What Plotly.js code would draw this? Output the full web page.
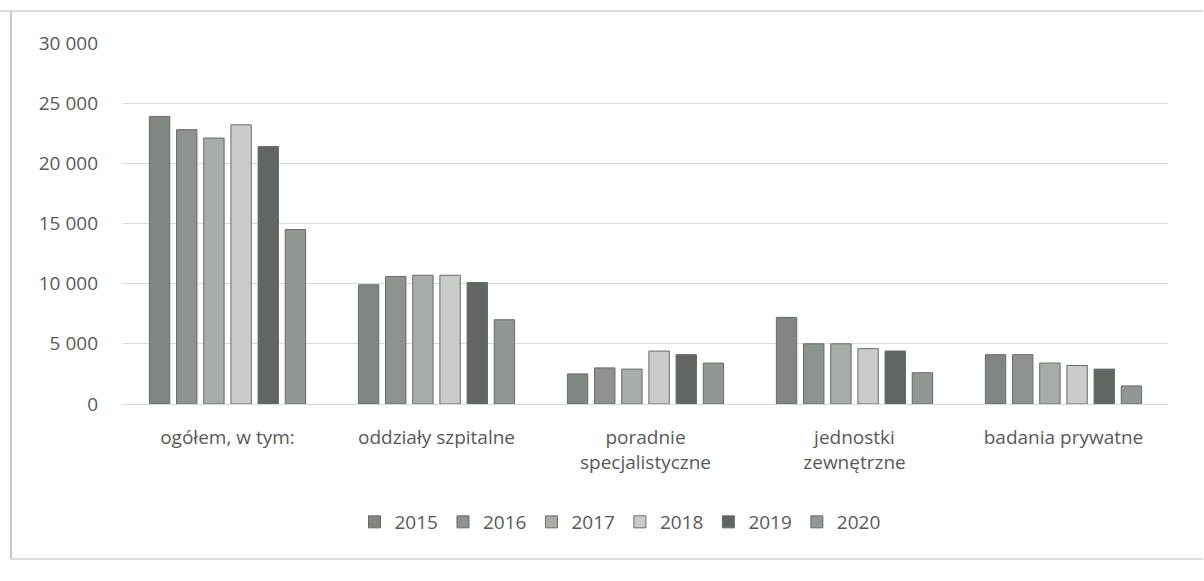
<!DOCTYPE html>
<html>
<head>
<meta charset="utf-8">
<script src="https://cdn.plot.ly/plotly-3.0.1.min.js"></script>
<style>
html,body{margin:0;padding:0;background:#fff;overflow:hidden;}
#chart{width:1204px;height:581px;}
</style>
</head>
<body>
<div id="chart"></div>
<script>
const categories = ["ogółem, w tym:", "oddziały szpitalne", "poradnie<br>specjalistyczne", "jednostki<br>zewnętrzne", "badania prywatne"];
const years = ["2015", "2016", "2017", "2018", "2019", "2020"];
const v2015 = [23900, 9900, 2500, 7200, 4100];
const v2016 = [22800, 10600, 3000, 5000, 4100];
const v2017 = [22100, 10700, 2900, 5000, 3400];
const v2018 = [23200, 10700, 4400, 4600, 3200];
const v2019 = [21400, 10100, 4100, 4400, 2900];
const v2020 = [14500, 7000, 3400, 2600, 1500];
const series = [v2015, v2016, v2017, v2018, v2019, v2020];
const colors = ["#818683", "#8e9390", "#a8aca9", "#caccca", "#616663", "#939794"];
const yTicks = [0, 5000, 10000, 15000, 20000, 25000, 30000];

const traces = series.map((vals, i) => ({
  type: "bar",
  name: years[i],
  x: categories,
  y: vals,
  marker: {color: colors[i], line: {color: "#676b68", width: 1}},
  hoverinfo: "skip"
}));

const L = 123, R = 1168, T = 43, B = 404;
const W = R - L, H = B - T;
const px = x => (x - L) / W;
const py = y => (B - y) / H;

const layout = {
  width: 1204, height: 581,
  margin: {l: L, r: 1204 - R, t: T, b: 581 - B, pad: 0},
  paper_bgcolor: "#ffffff",
  plot_bgcolor: "#ffffff",
  separators: ", ",
  font: {family: "Open Sans, sans-serif", color: "#595959", size: 19},
  barmode: "group",
  bargap: 0.22,
  bargroupgap: 0.25,
  showlegend: true,
  legend: {
    orientation: "h", x: px(620), xanchor: "center", y: py(522), yanchor: "middle",
    font: {size: 19, color: "#595959"}, itemwidth: 30, traceorder: "normal"
  },
  xaxis: {
    type: "category", showgrid: false, zeroline: false, showline: false,
    ticks: "", ticklabelstandoff: 20, tickfont: {size: 19, color: "#595959"}
  },
  yaxis: {
    range: [0, 30000], tickvals: yTicks, tickformat: ",d",
    showgrid: true, gridcolor: "#d9d9d9", gridwidth: 1,
    zeroline: true, zerolinecolor: "#d9d9d9", showline: false,
    ticks: "", ticklabelstandoff: 24, tickfont: {size: 19, color: "#595959"}
  },
  shapes: [
    {type: "line", xref: "paper", yref: "paper", x0: px(11), x1: px(11), y0: py(12), y1: py(559), line: {color: "#c8c8c8", width: 2}},
    {type: "line", xref: "paper", yref: "paper", x0: px(11), x1: px(1203), y0: py(559), y1: py(559), line: {color: "#d2d2d2", width: 1.5}},
    {type: "line", xref: "paper", yref: "paper", x0: px(0), x1: px(1203), y0: py(11), y1: py(11), line: {color: "#cfcfcf", width: 1.5}}
  ]
};

Plotly.newPlot("chart", traces, layout, {staticPlot: true, displayModeBar: false});
</script>
</body>
</html>
